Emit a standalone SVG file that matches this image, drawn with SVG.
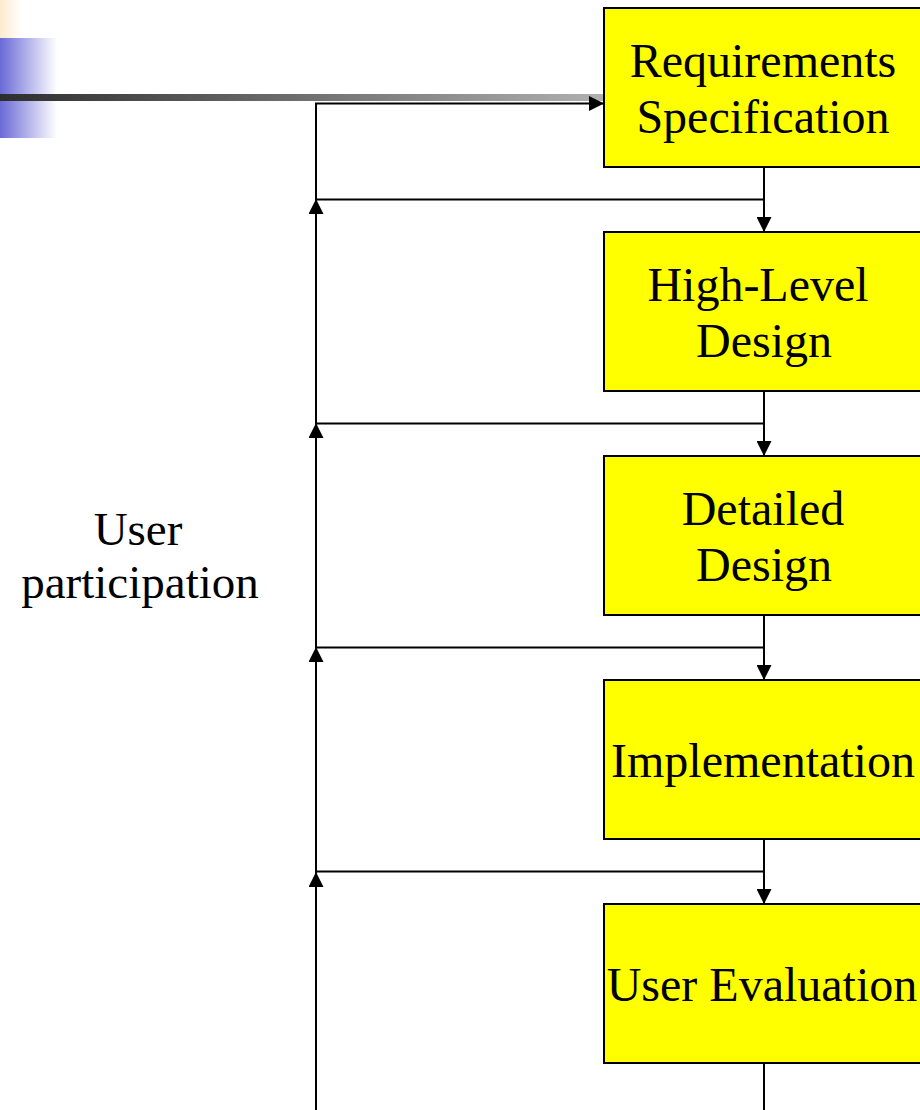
<svg xmlns="http://www.w3.org/2000/svg" width="920" height="1110" viewBox="0 0 920 1110">
<defs>
<linearGradient id="peach" x1="0" y1="0" x2="1" y2="0"><stop offset="0" stop-color="#fdeacd"/><stop offset="1" stop-color="#ffffff"/></linearGradient>
<linearGradient id="blue" x1="0" y1="0" x2="1" y2="0"><stop offset="0" stop-color="#6a6ad6"/><stop offset="1" stop-color="#ffffff"/></linearGradient>
<linearGradient id="bar" x1="0" y1="0" x2="1" y2="0"><stop offset="0" stop-color="#2e2e2e"/><stop offset="1" stop-color="#b0b0b0"/></linearGradient>
<marker id="ah" viewBox="0 0 15 15" refX="15" refY="7.5" markerWidth="15" markerHeight="15" markerUnits="userSpaceOnUse" orient="auto"><path d="M0,0 L15,7.5 L0,15 Z" fill="#000"/></marker>
<style>
.box{fill:#ffff00;stroke:#000;stroke-width:2}
.t{font-family:"Liberation Serif","Times New Roman",serif;font-size:48px;fill:#000;text-anchor:middle}
.lbl{font-family:"Liberation Serif","Times New Roman",serif;font-size:47px;fill:#000;text-anchor:middle}
.ln{fill:none;stroke:#000;stroke-width:2}
</style>
</defs>
<g id="decor">
<rect x="0" y="0" width="22" height="38" fill="url(#peach)"/>
<rect x="0" y="38" width="57" height="100" fill="url(#blue)"/>
<rect x="0" y="94" width="604" height="7" fill="url(#bar)"/>
</g>
<g id="connectors">
<path class="ln" d="M316,200 V103.5 H604" marker-end="url(#ah)"/>
<path class="ln" d="M316,1110 V872" marker-end="url(#ah)"/>
<path class="ln" d="M316,872 V647" marker-end="url(#ah)"/>
<path class="ln" d="M316,648 V423" marker-end="url(#ah)"/>
<path class="ln" d="M316,424 V199" marker-end="url(#ah)"/>
<path class="ln" d="M764,167 V232" marker-end="url(#ah)"/>
<path class="ln" d="M764,391 V456" marker-end="url(#ah)"/>
<path class="ln" d="M764,615 V680" marker-end="url(#ah)"/>
<path class="ln" d="M764,839 V904" marker-end="url(#ah)"/>
<path class="ln" d="M764,1063 V1110"/>
<path class="ln" d="M316,199.5 H764"/>
<path class="ln" d="M316,423.5 H764"/>
<path class="ln" d="M316,647.5 H764"/>
<path class="ln" d="M316,871.5 H764"/>
</g>
<g id="req">
<rect class="box" x="604" y="8" width="320" height="159"/>
<text class="t" x="763" y="77">Requirements</text>
<text class="t" x="763" y="133">Specification</text>
</g>
<g id="hld">
<rect class="box" x="604" y="232" width="320" height="159"/>
<text class="t" x="758" y="301">High-Level</text>
<text class="t" x="764" y="357">Design</text>
</g>
<g id="dd">
<rect class="box" x="604" y="456" width="320" height="159"/>
<text class="t" x="763" y="525">Detailed</text>
<text class="t" x="764" y="581">Design</text>
</g>
<g id="impl">
<rect class="box" x="604" y="680" width="320" height="159"/>
<text class="t" x="763" y="777">Implementation</text>
</g>
<g id="ue">
<rect class="box" x="604" y="904" width="320" height="159"/>
<text class="t" x="762" y="1001">User Evaluation</text>
</g>
<g id="label">
<text class="lbl" x="138" y="545">User</text>
<text class="lbl" x="140" y="598">participation</text>
</g>
</svg>
